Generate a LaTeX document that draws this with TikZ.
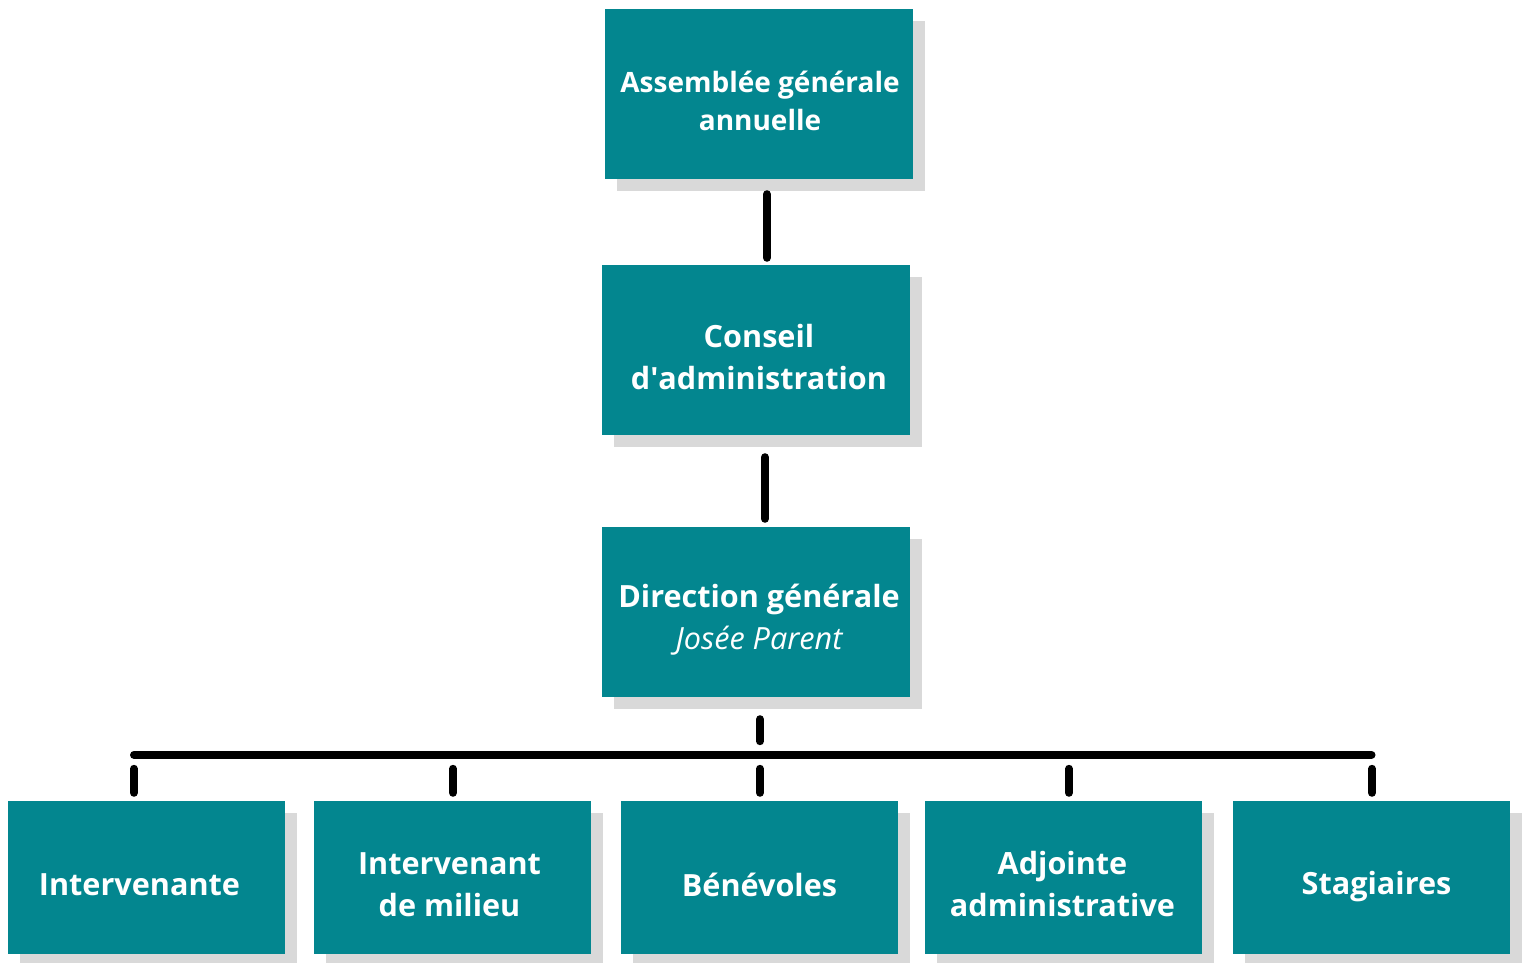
\documentclass[tikz,border=0pt]{standalone}
\usepackage{fontspec}
\setmainfont{Open Sans}
\usetikzlibrary{shadows}
\definecolor{boxteal}{HTML}{03868F}
\definecolor{shadowgray}{HTML}{D9D9D9}
\begin{document}
\begin{tikzpicture}[x=1pt,y=-1pt,
  box/.style={fill=boxteal, inner sep=0pt, minimum width=308pt, minimum height=170pt,
    general shadow={fill=shadowgray, shadow xshift=12pt, shadow yshift=-12pt}},
  smallbox/.style={box, minimum width=277pt, minimum height=153pt},
  lbl/.style={text=white, align=center, font=\fontsize{30.6}{42}\selectfont\bfseries},
  conn/.style={line width=8pt, line cap=round, draw=black}]
\useasboundingbox (0,0) rectangle (1524,963);
\clip (0,0) rectangle (1524,963);
% top three boxes
\node[box] (ag) at (759,94) {};
\node[box] (ca) at (756,350) {};
\node[box] (dg) at (756,612) {};
\node[lbl, font=\fontsize{28}{38}\selectfont\bfseries] at ([xshift=1pt,yshift=-7pt]ag.center) {Assemblée générale\\annuelle};
\node[lbl] at ([xshift=3pt,yshift=-7pt]ca.center) {Conseil\\d\textquotesingle administration};
\node[lbl] at ([xshift=3pt,yshift=-8pt]dg.center) {Direction générale\\{\mdseries\itshape Josée Parent}};
% bottom boxes
\node[smallbox] (b1) at (146.5,877.5) {};
\node[smallbox] (b2) at (452.5,877.5) {};
\node[smallbox] (b3) at (759.5,877.5) {};
\node[smallbox] (b4) at (1063.5,877.5) {};
\node[smallbox] (b5) at (1371.5,877.5) {};
\node[lbl] at ([xshift=-7pt,yshift=-7pt]b1.center) {Intervenante};
\node[lbl] at ([xshift=-3pt,yshift=-7pt]b2.center) {Intervenant\\de milieu};
\node[lbl] at ([yshift=-7pt]b3.center) {Bénévoles};
\node[lbl] at ([xshift=-1pt,yshift=-7pt]b4.center) {Adjointe\\administrative};
\node[lbl] at ([xshift=5pt,yshift=-9pt]b5.center) {Stagiaires};
% connectors
\draw[conn] ([xshift=8pt,yshift=-15pt]ag.south) -- ([xshift=11pt,yshift=7pt]ca.north);
\draw[conn] ([xshift=9pt,yshift=-22pt]ca.south) -- ([xshift=9pt,yshift=8pt]dg.north);
\coordinate (hl) at ([xshift=-12.5pt,yshift=46pt]b1.north);
\coordinate (hr) at ([yshift=46pt]b5.north);
\draw[conn] ([xshift=4pt,yshift=-22pt]dg.south) -- ([xshift=4pt,yshift=-44pt]dg.south);
\draw[conn] (hl) -- (hr);
\draw[conn] ([xshift=-12.5pt,yshift=32pt]b1.north) -- ([xshift=-12.5pt,yshift=8pt]b1.north);
\draw[conn] ([xshift=0.5pt,yshift=32pt]b2.north) -- ([xshift=0.5pt,yshift=8pt]b2.north);
\draw[conn] ([xshift=0.5pt,yshift=32pt]b3.north) -- ([xshift=0.5pt,yshift=8pt]b3.north);
\draw[conn] ([xshift=5.5pt,yshift=32pt]b4.north) -- ([xshift=5.5pt,yshift=8pt]b4.north);
\draw[conn] ([xshift=0.5pt,yshift=32pt]b5.north) -- ([xshift=0.5pt,yshift=8pt]b5.north);
\end{tikzpicture}
\end{document}
